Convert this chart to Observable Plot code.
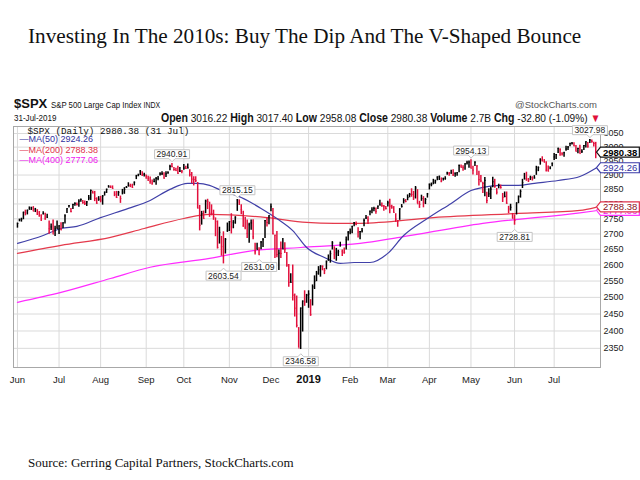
<!DOCTYPE html>
<html><head><meta charset="utf-8">
<script src="https://cdn.jsdelivr.net/npm/d3@7"></script>
<script src="https://cdn.jsdelivr.net/npm/@observablehq/plot@0.6"></script>
<style>
html,body{margin:0;padding:0;background:#fff}
body{width:640px;height:480px;position:relative;overflow:hidden}
.abs{position:absolute;white-space:nowrap}
.nar{font-family:"Liberation Sans",sans-serif;transform:scaleX(0.82);transform-origin:left center}
.narR{font-family:"Liberation Sans",sans-serif;transform:scaleX(0.88);transform-origin:right center}
#title{left:28px;top:23px;font:21.2px/26px "Liberation Serif",serif;color:#111}
#sym{left:14px;top:97px;font:bold 13px/14px "Liberation Sans",sans-serif;color:#111}
#h1{left:51px;top:98px;font-size:9.5px;line-height:14px;color:#111}
#sc{right:43px;top:99px;font-size:9.5px;color:#555;font-family:"Liberation Sans",sans-serif}
#h2l{left:14px;top:111px;font-size:9.8px;line-height:14px;color:#111}
#h2r{right:40px;top:111px;font-size:11.5px;line-height:14px;color:#111}
#h2r b{font-weight:bold;font-size:12px}
#cap{left:28px;top:455px;font:13px/16px "Liberation Serif",serif;color:#111}
#chart{position:absolute;left:0;top:95px}
</style></head><body>
<div id="title" class="abs">Investing In The 2010s: Buy The Dip And The V-Shaped Bounce</div>
<div id="sym" class="abs">$SPX</div>
<div id="h1" class="abs nar">S&amp;P 500 Large Cap Index <span style="font-size:8.5px">INDX</span></div>
<div id="sc" class="abs">@StockCharts.com</div>
<div id="h2l" class="abs nar">31-Jul-2019</div>
<div id="h2r" class="abs narR"><b>Open</b> 3016.22 <b>High</b> 3017.40 <b>Low</b> 2958.08 <b>Close</b> 2980.38 <b>Volume</b> 2.7B <b>Chg</b> -32.80 (-1.09%) <span style="color:#e0103a">&#9660;</span></div>
<div id="chart"></div>
<div id="cap" class="abs">Source: Gerring Capital Partners, StockCharts.com</div>
<script>
// Daily S&P 500, 1-Jun-2018 .. 31-Jul-2019 (trading-day index 0..292)
const closes = [
2734.62,2746.87,2748.80,2772.35,2770.37,2779.03,2782.00,2786.85,2775.63,2782.49,2779.66,2773.75,2762.59,2767.32,2749.76,2754.88,2717.07,2723.06,2699.63,2716.31,2718.37,
2726.71,2713.22,2736.61,2759.82,2784.17,2793.84,2774.02,2798.29,2801.31,2798.43,2809.55,2815.62,2804.49,2801.83,2806.98,2820.40,2846.07,2837.44,2818.82,2802.60,2816.29,
2813.36,2827.22,2840.35,2850.40,2858.45,2857.70,2853.58,2833.28,2821.93,2839.96,2818.37,2840.69,2850.13,2857.05,2862.96,2861.82,2856.98,2874.69,2896.74,2897.52,2914.04,2901.13,2901.52,
2896.72,2888.60,2878.05,2871.68,2877.13,2887.89,2888.92,2904.18,2904.98,2888.80,2904.31,2907.95,2930.75,2929.67,2919.37,2915.56,2905.97,2914.00,2913.98,
2924.59,2923.43,2925.51,2901.61,2885.57,2884.43,2880.34,2785.68,2728.37,2767.13,2750.79,2809.92,2809.21,2768.78,2767.78,2755.88,2740.69,2656.10,2705.57,2658.69,2641.25,2682.63,2711.74,
2740.37,2723.06,2738.31,2755.45,2813.89,2806.83,2781.01,2726.22,2722.18,2701.58,2730.20,2736.27,2690.73,2641.89,2649.93,2632.56,2673.45,2682.17,2743.79,2737.80,2760.17,
2790.37,2700.06,2695.95,2633.08,2637.72,2636.78,2651.07,2650.54,2599.95,2545.94,2546.16,2506.96,2467.42,2416.62,2351.10,2467.70,2488.83,2485.74,2506.85,
2510.03,2447.89,2531.94,2549.69,2574.41,2584.96,2596.64,2596.26,2582.61,2610.30,2616.10,2635.96,2670.71,2632.90,2638.70,2642.33,2664.76,2643.85,2640.00,2681.05,2704.10,
2706.53,2724.87,2737.70,2731.61,2706.05,2707.88,2709.80,2744.73,2753.03,2745.73,2775.60,2779.76,2784.70,2774.88,2792.67,2796.11,2793.90,2792.38,2784.49,
2803.69,2792.81,2789.65,2771.45,2748.93,2743.07,2783.30,2791.52,2810.92,2808.48,2822.48,2832.94,2832.57,2824.23,2854.88,2800.71,2798.36,2818.46,2805.37,2815.44,2834.40,
2867.19,2867.24,2873.40,2879.39,2892.74,2895.77,2878.20,2888.21,2888.32,2907.41,2905.58,2907.06,2900.45,2905.03,2907.97,2933.68,2927.25,2926.17,2939.88,2943.03,2945.83,
2923.73,2917.52,2945.64,2932.47,2884.05,2879.42,2870.72,2881.40,2811.87,2834.41,2850.96,2876.32,2859.53,2840.23,2864.36,2856.27,2822.24,2826.06,2802.39,2783.02,2788.86,2752.06,
2744.45,2803.27,2826.15,2843.49,2873.34,2886.73,2885.72,2879.84,2891.64,2886.98,2889.67,2917.75,2926.46,2954.18,2950.46,2945.35,2917.38,2913.78,2924.92,2941.76,
2964.33,2973.01,2995.82,2990.41,2975.95,2979.63,2993.07,2999.91,3013.77,3014.30,3004.04,2984.42,2995.11,2976.61,2985.03,3005.47,3019.56,3003.67,3025.86,3020.97,3013.18,2980.38
];
const highs = [
2736,2749,2752,2772,2779,2779,2790,2789,2791,2785,2780,2774,2763,2774,2769,2765,2743,2733,2746,2725,2743,
2727,2737,2737,2764,2784,2795,2785,2799,2804,2803,2814,2817,2812,2810,2808,2829,2848,2844,2843,2821,2825,
2826,2829,2841,2851,2863,2862,2862,2842,2843,2843,2827,2850,2856,2860,2873,2868,2868,2876,2899,2903,2916,2912,2906,
2900,2896,2893,2883,2886,2891,2895,2908,2912,2908,2912,2912,2935,2940.91,2927,2924,2931,2927,2916,
2937,2931,2939,2919,2909,2894,2894,2874,2795,2775,2776,2813,2816,2806,2797,2779,2753,2743,2722,2692,2707,2685,2736,
2741,2767,2744,2757,2815.15,2814,2797,2775,2754,2746,2735,2746,2747,2670,2670,2655,2675,2685,2744,2753,2760,
2800,2785,2696,2708,2648,2674,2685,2671,2640,2602,2573,2600,2510,2504,2410,2468,2489,2520,2509,
2520,2493,2538,2566,2580,2595,2598,2597,2589,2613,2632,2645,2675,2658,2653,2647,2673,2648,2654,2690,2708,
2716,2725,2738,2739,2720,2708,2718,2749,2761,2757,2776,2787,2789,2786,2793,2813,2803,2795,2791,
2809,2816,2796,2791,2767,2744,2784,2798,2818,2815,2831,2836,2852,2843,2860,2849,2809,2830,2825,2819,2836,
2869,2872,2885,2882,2894,2896,2890,2889,2894,2910,2909,2917,2919,2908,2909,2936,2936,2933,2940,2949,2950,
2954.13,2931,2947,2933,2913,2898,2875,2891,2840,2852,2858,2892,2885,2853,2868,2865,2836,2841,2841,2792,2799,2768,
2763,2804,2827,2848,2885,2906,2910,2888,2896,2894,2898,2931,2929,2958,2965,2955,2947,2932,2929,2943,
2977,2973,2996,2994,2980,2981,3003,3002,3014,3017,3016,3006,2996,3007,2990,3006,3020,3017,3027.98,3026,3018,3017.40
];
const lows = [
2719,2740,2739,2747,2760,2763,2780,2778,2775,2771,2761,2755,2741,2763,2745,2752,2699,2711,2699,2692,2716,
2698,2711,2718,2733,2768,2786,2770,2781,2792,2793,2789,2806,2799,2795,2791,2811,2812,2835,2808,2799,2809,
2804,2796,2827,2836,2855,2853,2851,2825,2819,2826,2802,2831,2833,2853,2858,2856,2854,2862,2884,2895,2898,2895,2893,
2885,2877,2868,2864,2873,2864,2880,2897,2898,2886,2891,2903,2915,2926,2913,2913,2903,2909,2905,
2917,2920,2921,2893,2869,2862,2874,2784,2710,2729,2749,2767,2781,2755,2760,2745,2691,2651,2667,2628,2603.54,2635,2705,
2708,2700,2717,2732,2775,2795,2764,2722,2714,2685,2670,2712,2681,2632,2649,2631.09,2649,2656,2685,2723,2730,
2774,2697,2621,2623,2583,2621,2650,2637,2593,2531,2543,2489,2441,2409,2351,2346.58,2397,2473,2482,
2467,2443,2474,2524,2548,2568,2562,2582,2570,2585,2612,2606,2648,2617,2612,2627,2657,2627,2634,2648,2677,
2697,2701,2724,2727,2687,2681,2703,2724,2748,2731,2760,2767,2774,2765,2781,2794,2789,2775,2780,
2790,2767,2782,2769,2738,2722,2745,2786,2800,2804,2811,2821,2823,2812,2817,2800,2785,2809,2787,2798,2820,
2848,2859,2866,2868,2880,2881,2873,2879,2882,2899,2896,2903,2895,2892,2896,2908,2926,2913,2917,2936,2924,
2923,2900,2930,2898,2862,2873,2836,2825,2801,2822,2815,2856,2854,2831,2852,2851,2805,2821,2799,2767,2776,2750,
2728.81,2763,2801,2820,2853,2883,2878,2874,2881,2879,2886,2899,2912,2935,2947,2944,2911,2912,2919,2929,
2952,2955,2977,2967,2968,2963,2985,2988,3001,3008,3002,2984,2976,2976,2977,2988,2997,2996,3013,3014,3000,2958.08
];

// Moving averages (trading-day index, value)
const ma50Idx = [0,13,22,30,42,56,67,77,86,91,97,103,113,123,131,139,146,155,163,170,178,187,195,207,219,229,235,244,253,261,273,284,292];
const ma50Val = [2669,2695,2718,2725,2754,2785,2812,2850,2871,2871,2864,2846,2822,2785,2751,2711,2656,2624,2605,2608,2608,2637,2695,2751,2802,2846,2857,2864,2864,2871,2881,2895,2924.26];
const ma200Idx = [0,22,47,64,84,97,126,146,160,173,210,253,284,292];
const ma200Val = [2637,2663,2689,2718,2751,2765,2754,2738,2735,2735,2754,2768,2778,2788.38];
const ma400Idx = [0,22,47,67,97,119,143,173,193,235,284,292];
const ma400Val = [2485,2515,2558,2593,2621,2646,2656,2669,2689,2735,2770,2777.06];

// Axis ticks
const monthTicks = [0,21,42,65,84,107,128,147,168,187,208,229,251,271];
const monthLabels = ["Jun","Jul","Aug","Sep","Oct","Nov","Dec","2019","Feb","Mar","Apr","May","Jun","Jul"];
const yTicks = [2350,2400,2450,2500,2550,2600,2650,2700,2750,2800,2850,2900,2950,3000,3050];

// Annotated extremes
const hiIdx = [78,111,229,289];
const hiVals = [2940.91,2815.15,2954.13,3027.98];
const loIdx = [104,122,143,251];
const loVals = [2603.54,2631.09,2346.58,2728.81];

// Right-edge value boxes
const rightVals = [2777.06,2788.38,2924.26];
const rightColors = ["#ee22ee","#8a1020","#3030a0"];
const rightBorders = ["#ff33ff","#e0304a","#3a3aa8"];
const lastClose = 2980.38;

const RED = "#e2103c", BLUE = "#4040a8", MRED = "#e43a4c", MAG = "#ff2cff";
const SANS = '"Liberation Sans",sans-serif';

const bars = closes.map((c, i) => ({i, c, h: highs[i], l: lows[i], col: (i === 0 || c >= closes[i - 1]) ? "#000" : RED}));
const toPts = (idx, val) => idx.map((i, k) => ({i, v: val[k]}));
const months = monthTicks.map((t, k) => ({t, label: monthLabels[k]}));
const his = toPts(hiIdx, hiVals), los = toPts(loIdx, loVals);
const rights = rightVals.map((v, k) => ({v, col: rightColors[k], border: rightBorders[k]}));

const chart = Plot.plot({
  width: 640, height: 300,
  marginTop: 31, marginBottom: 28, marginLeft: 13, marginRight: 40,
  x: {domain: [-2, 294.4], axis: null},
  y: {type: "log", domain: [2296, 3076], axis: null},
  color: {type: "identity"},
  style: {fontFamily: SANS, fontSize: "9.5px", background: "transparent", overflow: "visible"},
  marks: [
    Plot.gridY(yTicks, {stroke: "#dadada", strokeOpacity: 1}),
    Plot.gridX(monthTicks, {stroke: "#dadada", strokeOpacity: 1}),
    Plot.frame({stroke: "#a8a8a8"}),
    Plot.axisY(yTicks, {anchor: "right", tickSize: 0, tickPadding: 3, tickFormat: d => String(d), fill: "#222", fontSize: 9}),
    Plot.text(months.filter(d => d.label !== "2019"), {x: "t", text: "label", frameAnchor: "bottom", dy: 12, lineAnchor: "middle", fill: "#222", fontSize: 9.5}),
    Plot.text(months.filter(d => d.label === "2019"), {x: "t", text: "label", frameAnchor: "bottom", dy: 12, lineAnchor: "middle", fill: "#111", fontSize: 11, fontWeight: "bold"}),
    Plot.line(toPts(ma400Idx, ma400Val), {x: "i", y: "v", stroke: MAG, strokeWidth: 1.2, curve: "monotone-x"}),
    Plot.line(toPts(ma200Idx, ma200Val), {x: "i", y: "v", stroke: MRED, strokeWidth: 1.2, curve: "monotone-x"}),
    Plot.line(toPts(ma50Idx, ma50Val), {x: "i", y: "v", stroke: BLUE, strokeWidth: 1.2, curve: "monotone-x"}),
    Plot.ruleX(bars, {x: "i", y1: "l", y2: "h", stroke: "col", strokeWidth: 1.5}),
    Plot.ruleY(bars, {y: "c", x1: "i", x2: d => d.i + 0.7, stroke: "col", strokeWidth: 1}),
    Plot.text(his, {x: "i", y: "v", text: d => d.v.toFixed(2), dy: -9, lineAnchor: "middle", fill: "#222", fontSize: 8.5}),
    Plot.text(los, {x: "i", y: "v", text: d => d.v.toFixed(2), dy: 12, lineAnchor: "middle", fill: "#222", fontSize: 8.5}),
    Plot.text(rights, {y: "v", text: d => d.v.toFixed(2), frameAnchor: "right", dx: 2.5, textAnchor: "start", lineAnchor: "middle", fill: "col", fontSize: 9.5}),
    Plot.text([lastClose], {y: d => d, text: d => d.toFixed(2), frameAnchor: "right", dx: 2.5, textAnchor: "start", lineAnchor: "middle", fill: "#000", fontSize: 9.5, fontWeight: "bold"}),
    Plot.text(["$SPX (Daily) 2980.38 (31 Jul)"], {text: d => d, frameAnchor: "top-left", dx: 14, dy: 1, fill: "#111", fontSize: 9.3, fontFamily: '"Liberation Mono","DejaVu Sans Mono",monospace'}),
    Plot.text(["\u2014MA(50) 2924.26"], {text: d => d, frameAnchor: "top-left", dx: 6, dy: 9.5, fill: "#3030a0", fontSize: 9}),
    Plot.text(["\u2014MA(200) 2788.38"], {text: d => d, frameAnchor: "top-left", dx: 6, dy: 20, fill: "#e0304a", fontSize: 9}),
    Plot.text(["\u2014MA(400) 2777.06"], {text: d => d, frameAnchor: "top-left", dx: 6, dy: 30, fill: "#f020f0", fontSize: 9})
  ]
});
document.getElementById("chart").append(chart);

const NS = "http://www.w3.org/2000/svg";
function el(tag, attrs) { const e = document.createElementNS(NS, tag); for (const k in attrs) e.setAttribute(k, attrs[k]); return e; }
const hiSet = new Set(hiVals.map(v => v.toFixed(2)));
const loSet = new Set(loVals.map(v => v.toFixed(2)));
const rMap = new Map(rightVals.map((v, k) => [v.toFixed(2), rightBorders[k]]));
rMap.set(lastClose.toFixed(2), "#111");
chart.querySelectorAll("text").forEach(t => {
  const s = t.textContent.trim();
  const isHi = hiSet.has(s), isLo = loSet.has(s), rb = rMap.get(s);
  if (!isHi && !isLo && !rb) return;
  const b = t.getBBox();
  const tr = t.getAttribute("transform") || "";
  let d, stroke, sw = 1;
  if (rb) {
    const x0 = b.x - 2.5, x1 = b.x + b.width + 2, y0 = b.y + 0.5, y1 = b.y + b.height - 0.5, cy = (y0 + y1) / 2;
    d = `M${x0 - 4},${cy}L${x0},${y0}H${x1}V${y1}H${x0}Z`;
    stroke = rb; sw = 1.2;
  } else {
    const x0 = b.x - 2, x1 = b.x + b.width + 2, y0 = b.y + 0.5, y1 = b.y + b.height - 0.5, cx = (x0 + x1) / 2;
    d = isLo
      ? `M${x0},${y0}H${cx - 3}L${cx},${y0 - 3}L${cx + 3},${y0}H${x1}V${y1}H${x0}Z`
      : `M${x0},${y0}H${x1}V${y1}H${cx + 3}L${cx},${y1 + 3}L${cx - 3},${y1}H${x0}Z`;
    stroke = "#c4c4c4";
  }
  t.parentNode.insertBefore(el("path", {d, fill: "#fff", stroke, "stroke-width": sw, transform: tr}), t);
});
if (closes.length !== 293 || highs.length !== 293 || lows.length !== 293) {
  document.body.insertAdjacentHTML("beforeend", `<div class="abs" style="left:300px;top:5px;color:red">${closes.length} ${highs.length} ${lows.length}</div>`);
}
</script>
</body></html>
